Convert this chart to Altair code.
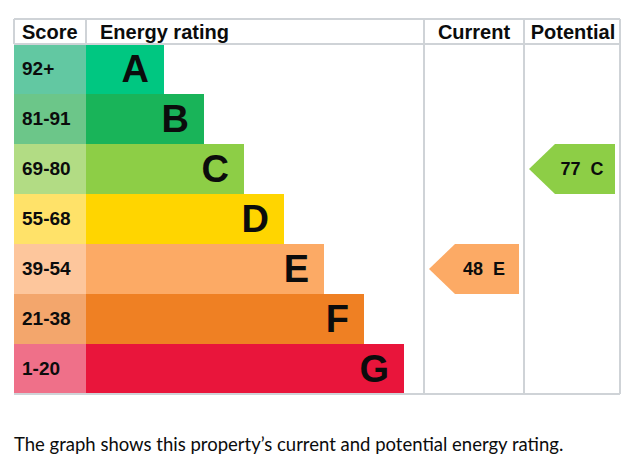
import altair as alt
import pandas as pd

# ---- data ----
ratings = ["A", "B", "C", "D", "E", "F", "G"]
score_ranges = ["92+", "81-91", "69-80", "55-68", "39-54", "21-38", "1-20"]
bar_colors = ["#00c781", "#19b459", "#8dce46", "#ffd500", "#fcaa65", "#ef8023", "#e9153b"]
score_colors = ["#62c8a2", "#6cc689", "#b2dc84", "#ffe269", "#fdc69c", "#f3a66c", "#ef7089"]
headers = ["Score", "Energy rating", "Current", "Potential"]
current_score, current_rating = 48, "E"
potential_score, potential_rating = 77, "C"
caption = "The graph shows this property\u2019s current and potential energy rating."

# ---- layout (scale units) ----
SCORE_L, BAR_L = -72, 0
CUR_L, POT_L, RIGHT = 338, 438, 534
BAR0, BAR_STEP = 78, 40
GRID = "#cfd3d7"
FONT = "Liberation Sans"

rows = pd.DataFrame({
    "rating": ratings,
    "score": score_ranges,
    "bar_color": bar_colors,
    "score_color": score_colors,
})
rows["row"] = range(len(ratings))
rows["row2"] = rows["row"] + 1
rows["mid"] = rows["row"] + 0.5
rows["end"] = BAR0 + BAR_STEP * rows["row"]
rows["letter_x"] = rows["end"] - 15
rows["s_l"] = SCORE_L
rows["b_l"] = BAR_L
rows["s_tx"] = SCORE_L + 8

xs = alt.Scale(domain=[-78, 535], nice=False, zero=False)
ys = alt.Scale(domain=[-0.72, 8.26], nice=False, zero=False, reverse=True)

def X(f):
    return alt.X(f, type="quantitative", scale=xs, axis=None)

def Y(f):
    return alt.Y(f, type="quantitative", scale=ys, axis=None)

base = alt.Chart(rows)

score_cells = base.mark_rect().encode(
    x=X("s_l"), x2="b_l", y=Y("row"), y2="row2",
    color=alt.Color("score_color:N", scale=None))
bars = base.mark_rect().encode(
    x=X("b_l"), x2="end", y=Y("row"), y2="row2",
    color=alt.Color("bar_color:N", scale=None))
score_text = base.mark_text(align="left", baseline="middle", font=FONT,
                            fontWeight="bold", fontSize=19, color="#0b0c0c").encode(
    x=X("s_tx"), y=Y("mid"), text="score:N")
letter_text = base.mark_text(align="right", baseline="middle", font=FONT,
                             fontWeight="bold", fontSize=38, color="#0b0c0c", dy=2).encode(
    x=X("letter_x"), y=Y("mid"), text="rating:N")

# grid lines
lines = pd.DataFrame([
    {"x": SCORE_L, "x2": RIGHT, "y": -0.5, "y2": -0.5},
    {"x": SCORE_L, "x2": RIGHT, "y": 0, "y2": 0},
    {"x": SCORE_L, "x2": RIGHT, "y": 7, "y2": 7},
    {"x": SCORE_L, "x2": SCORE_L, "y": -0.5, "y2": 0},
    {"x": BAR_L, "x2": BAR_L, "y": -0.5, "y2": 0},
    {"x": CUR_L, "x2": CUR_L, "y": -0.5, "y2": 7},
    {"x": POT_L, "x2": POT_L, "y": -0.5, "y2": 7},
    {"x": RIGHT, "x2": RIGHT, "y": -0.5, "y2": 7},
])
grid = alt.Chart(lines).mark_rule(color=GRID, strokeWidth=2).encode(
    x=X("x"), x2="x2", y=Y("y"), y2="y2")

# headers
hdr = pd.DataFrame({
    "text": headers,
    "x": [SCORE_L + 8, BAR_L + 14, (CUR_L + POT_L) / 2, (POT_L + RIGHT) / 2 + 1],
    "align": ["left", "left", "center", "center"],
    "y": [-0.25] * 4,
})
hdr_left = alt.Chart(hdr[hdr["align"] == "left"]).mark_text(
    align="left", baseline="middle", font=FONT, fontWeight="bold", fontSize=20,
    color="#0b0c0c", dy=1).encode(x=X("x"), y=Y("y"), text="text:N")
hdr_center = alt.Chart(hdr[hdr["align"] == "center"]).mark_text(
    align="center", baseline="middle", font=FONT, fontWeight="bold", fontSize=20,
    color="#0b0c0c", dy=1).encode(x=X("x"), y=Y("y"), text="text:N")

# arrows
def arrow_rows(name, score, rating, col_l, col_r):
    r = ratings.index(rating)
    color = bar_colors[r]
    tip, flat, right = col_l + 5, col_l + 31, col_r - 6
    pts = [(r, flat), (r + 0.5, tip), (r + 1, flat)]
    return [{"arrow": name, "y": y, "x": x, "x2": right, "color": color} for y, x in pts], {
        "arrow": name, "label": f"{score}\u00a0 {rating}", "x": (flat + right) / 2 - 3, "y": r + 0.5}

a1, t1 = arrow_rows("current", current_score, current_rating, CUR_L, POT_L + 1)
a2, t2 = arrow_rows("potential", potential_score, potential_rating, POT_L, RIGHT + 1)
arrow_df = pd.DataFrame(a1 + a2)
arrows = alt.Chart(arrow_df).mark_area(orient="horizontal").encode(
    y=Y("y"), x=X("x"), x2="x2", detail="arrow:N",
    color=alt.Color("color:N", scale=None))
arrow_text = alt.Chart(pd.DataFrame([t1, t2])).mark_text(
    align="center", baseline="middle", font=FONT, fontWeight="bold", fontSize=18,
    color="#0b0c0c", dy=1).encode(x=X("x"), y=Y("y"), text="label:N")

cap = alt.Chart(pd.DataFrame({"t": [caption], "x": [SCORE_L], "y": [8.14]})).mark_text(
    align="left", baseline="alphabetic", font="Lato", fontSize=18.5, color="#0b0c0c").encode(
    x=X("x"), y=Y("y"), text="t:N")

chart = alt.layer(
    score_cells, bars, grid, score_text, letter_text, hdr_left, hdr_center,
    arrows, arrow_text, cap
).properties(
    width=613, height=449, padding=0, autosize=alt.AutoSizeParams(type="none"),
    view=alt.ViewBackground(stroke="transparent", strokeWidth=0)
).configure_view(stroke="transparent", strokeWidth=0)

chart.save("out.html", embed_options={"renderer": "svg", "actions": False})
